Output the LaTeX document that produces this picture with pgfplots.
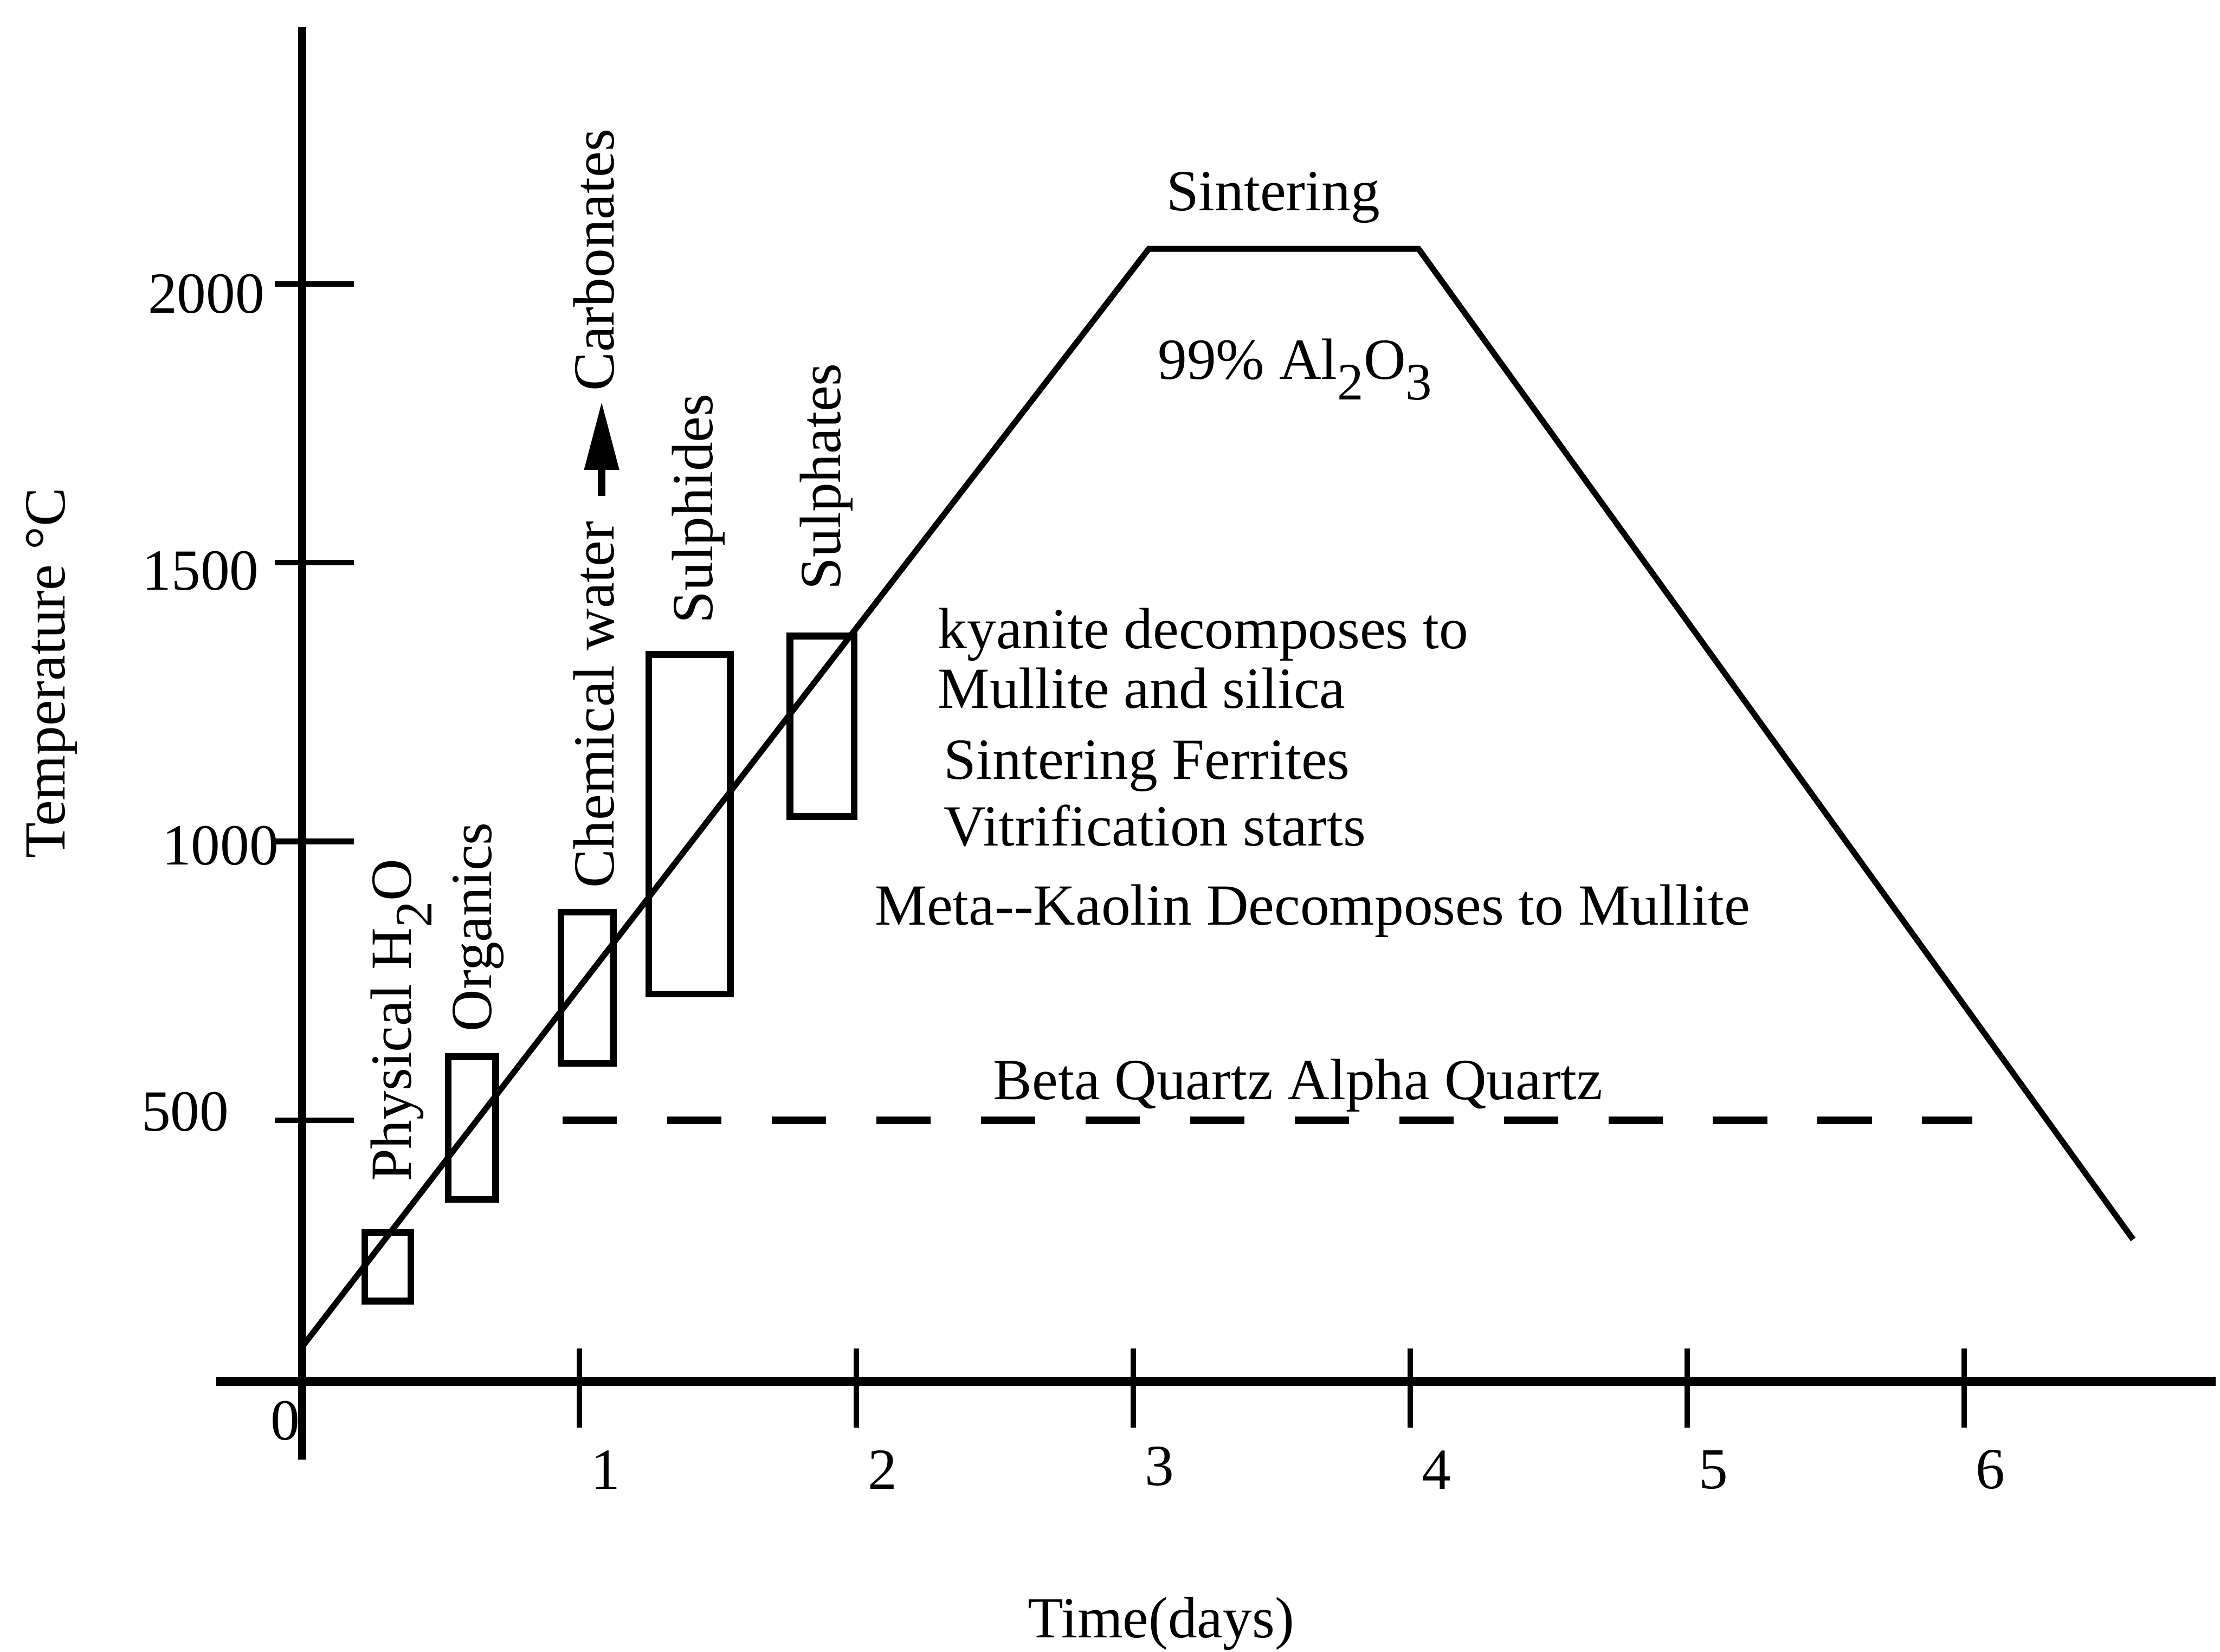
\documentclass[border=0pt]{standalone}
\usepackage{pgfplots}
\pgfplotsset{compat=1.18}
\usepackage{fontspec}
\setmainfont{Liberation Serif}
\newcommand{\sub}[1]{\raisebox{-3.6pt}{\fontsize{9.3}{10}\selectfont #1}}
\begin{document}
\fontsize{10.3}{12.4}\selectfont
\begin{tikzpicture}[font=\fontsize{10.3}{12.4}\selectfont]
\begin{axis}[
  scale only axis,
  width=338.5pt, height=239.69pt,
  xmin=0, xmax=6.908, ymin=31, ymax=2461.3,
  axis x line=bottom, axis y line=left,
  axis line style={draw=none},
  clip=false,
  xtick={1,2,3,4,5,6},
  xticklabels={1,2,\raisebox{1.3pt}{3},4,5,6},
  ytick={500,1000,1500,2000},
  yticklabels={},
  tick align=center,
  major tick length=14pt,
  xtick style={black, line width=1pt, yshift=-1.1pt},
  ytick style={black, line width=1pt, xshift=2.1pt},
  /pgf/number format/assume math mode=true,
  xticklabel style={anchor=center, inner sep=0pt, xshift=4.6pt, yshift=-8.6pt},
]
% invisible frame fixing the picture size
\path (axis cs:-1.0918,-453.7) rectangle (axis cs:6.908,2509.5);
% axis lines (extended past the origin as in the original)
\draw[line width=1.55pt] (axis cs:-0.311,31) -- (axis cs:6.908,31);
\draw[line width=1.45pt] (axis cs:0,-109) -- (axis cs:0,2461.3);

% firing schedule
\addplot[black, line width=1.05pt, line join=miter] coordinates {(0,94) (3.056,2063) (4.03,2063) (6.61,286)};
% quartz inversion
\addplot[black, line width=1.35pt, dash pattern=on 9.6pt off 8.9pt] coordinates {(0.94,500) (6.03,500)};
% reaction ranges
\addplot[black, line width=1.2pt, line join=miter] coordinates {(0.225,175.4) (0.392,175.4) (0.392,298.6) (0.225,298.6)} -- cycle;
\addplot[black, line width=1.2pt, line join=miter] coordinates {(0.527,357.9) (0.698,357.9) (0.698,614.2) (0.527,614.2)} -- cycle;
\addplot[black, line width=1.2pt, line join=miter] coordinates {(0.934,602) (1.122,602) (1.122,873) (0.934,873)} -- cycle;
\addplot[black, line width=1.2pt, line join=miter] coordinates {(1.251,726.5) (1.545,726.5) (1.545,1335.4) (1.251,1335.4)} -- cycle;
\addplot[black, line width=1.2pt, line join=miter] coordinates {(1.760,1044.9) (1.992,1044.9) (1.992,1368.3) (1.760,1368.3)} -- cycle;

% y tick labels
\node[anchor=east, inner sep=0pt] at (axis cs:-0.2612,514.6) {500};
\node[anchor=east, inner sep=0pt] at (axis cs:-0.0816,992) {1000};
\node[anchor=east, inner sep=0pt] at (axis cs:-0.153,1485) {1500};
\node[anchor=east, inner sep=0pt] at (axis cs:-0.1327,1982) {2000};
\node[anchor=center, inner sep=0pt] at (axis cs:-0.062,-39.3) {0};

% axis titles
\node[rotate=90, anchor=base west, inner sep=0pt] at (axis cs:-0.857,968.3) {Temperature °C};
\node[anchor=base, inner sep=0pt] at (axis cs:3.10,-428) {Time(days)};

% annotations
\node[anchor=base, inner sep=0pt] at (axis cs:3.505,2132) {Sintering};
\node[anchor=base west, inner sep=0pt] at (axis cs:3.085,1829) {99\% Al\sub{2}O\sub{3}};
\node[anchor=base west, inner sep=0pt] at (axis cs:2.291,1346.5) {kyanite decomposes to};
\node[anchor=base west, inner sep=0pt] at (axis cs:2.291,1239) {Mullite and silica};
\node[anchor=base west, inner sep=0pt] at (axis cs:2.313,1111.5) {Sintering Ferrites};
\node[anchor=base west, inner sep=0pt] at (axis cs:2.313,992.4) {Vitrification starts};
\node[anchor=base west, inner sep=0pt] at (axis cs:2.064,850) {Meta-{}-Kaolin Decomposes to Mullite};
\node[anchor=base west, inner sep=0pt] at (axis cs:2.491,537) {Beta Quartz Alpha Quartz};

\node[rotate=90, anchor=base west, inner sep=0pt] at (axis cs:0.393,388) {Physical H\sub{2}O};
\node[rotate=90, anchor=base west, inner sep=0pt] at (axis cs:0.683,657) {Organics};
\node[rotate=90, anchor=base west, inner sep=0pt] at (axis cs:1.124,914) {Chemical water};
\node[rotate=90, anchor=base west, inner sep=0pt] at (axis cs:1.124,1806) {Carbonates};
% arrow between "Chemical water" and "Carbonates"
\draw[line width=1.4pt] (axis cs:1.0806,1620) -- (axis cs:1.0806,1672);
\fill (axis cs:1.0168,1666.7) -- (axis cs:1.1444,1666.7) -- (axis cs:1.0806,1787) -- cycle;
\node[rotate=90, anchor=base west, inner sep=0pt] at (axis cs:1.48,1389) {Sulphides};
\node[rotate=90, anchor=base west, inner sep=0pt] at (axis cs:1.943,1449.5) {Sulphates};
\end{axis}
\end{tikzpicture}
\end{document}
